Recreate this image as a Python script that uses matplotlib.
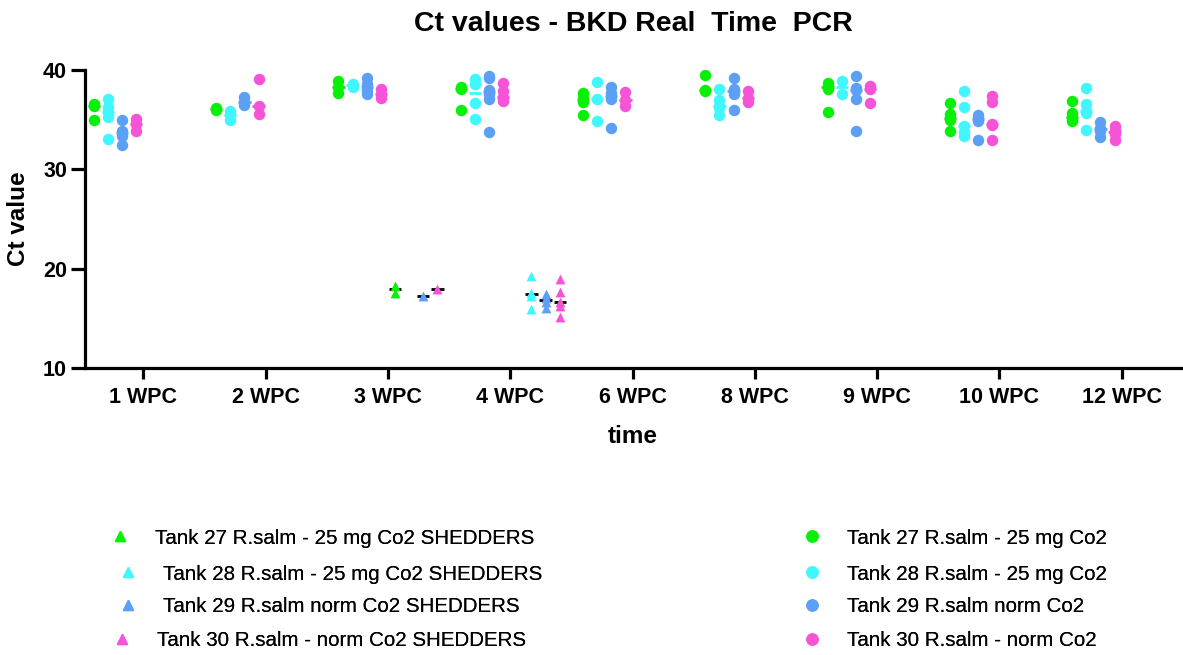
import numpy as np
import matplotlib.pyplot as plt
from matplotlib.lines import Line2D

plt.rcParams['font.family'] = ['Liberation Sans', 'DejaVu Sans']

weeks = ['1 WPC', '2 WPC', '3 WPC', '4 WPC', '6 WPC', '8 WPC', '9 WPC', '10 WPC', '12 WPC']

# Ct values per week for each tank (all fish sampled)
tank27 = [[36.6, 36.4, 35.0], [36.2, 36.0], [38.9, 38.3, 37.7], [38.3, 38.1, 36.0],
          [37.7, 37.2, 36.8, 35.5], [39.5, 38.0, 37.9], [38.7, 38.4, 38.1, 35.8],
          [36.7, 35.6, 35.2, 35.0, 33.9], [36.9, 35.7, 35.3, 35.05, 34.9]]
tank28 = [[37.1, 36.3, 35.8, 35.3, 33.1], [35.9, 35.5, 35.0], [38.6, 38.3],
          [39.1, 38.6, 36.7, 35.1], [38.8, 37.1, 34.9], [38.1, 37.0, 36.4, 36.2, 35.5],
          [38.9, 37.6], [37.9, 36.3, 34.4, 33.8, 33.4], [38.2, 36.6, 35.9, 35.7, 34.0]]
tank29 = [[35.0, 33.9, 33.4, 32.4], [37.3, 36.8, 36.5], [39.2, 38.6, 38.0, 37.6],
          [39.4, 39.2, 38.0, 37.6, 37.1, 33.8], [38.3, 37.7, 37.1, 34.2],
          [39.2, 38.1, 37.6, 36.0], [39.4, 38.2, 38.0, 37.1, 33.9],
          [35.5, 35.2, 34.9, 33.0], [34.8, 34.2, 33.9, 33.3]]
tank30 = [[35.1, 34.6, 33.9], [39.1, 36.4, 35.6], [38.1, 37.6, 37.2],
          [38.7, 37.9, 37.3, 37.2, 36.9], [37.8, 37.0, 36.4], [37.9, 37.2, 36.8],
          [38.4, 38.1, 36.7], [37.4, 36.8, 34.6, 34.5, 33.0], [34.4, 34.0, 33.6, 33.0]]

# shedders (low Ct) per week
shed27 = [[], [], [18.3, 17.6], [], [], [], [], [], []]
shed28 = [[], [], [], [19.3, 17.6, 17.2, 15.9], [], [], [], [], []]
shed29 = [[], [], [17.2], [17.5, 17.0, 16.6, 16.0], [], [], [], [], []]
shed30 = [[], [], [18.0], [19.0, 17.7, 16.6, 16.2, 15.1], [], [], [], [], []]

labels_all = ['Tank 27 R.salm - 25 mg Co2', 'Tank 28 R.salm - 25 mg Co2',
              'Tank 29 R.salm norm Co2', 'Tank 30 R.salm - norm Co2']
labels_shed = ['Tank 27 R.salm - 25 mg Co2 SHEDDERS', 'Tank 28 R.salm - 25 mg Co2 SHEDDERS',
               'Tank 29 R.salm norm Co2 SHEDDERS', 'Tank 30 R.salm - norm Co2 SHEDDERS']
colors = ['#08F008', '#40F6FF', '#5CA0F6', '#F553D8']

fig = plt.figure(figsize=(11.83, 6.55), dpi=100)
W, H = 1183, 655
ax = fig.add_axes([85 / W, (H - 368) / H, (1181 - 85) / W, 298 / H])

step = 0.1157
half = 0.05
series = [(d, c, 'o', c) for d, c in zip([tank27, tank28, tank29, tank30], colors)] + \
         [(d, c, '^', 'black') for d, c in zip([shed27, shed28, shed29, shed30], colors)]

for j, (data, col, mk, medcol) in enumerate(series):
    off = (j - 3.5) * step
    for i, vals in enumerate(data):
        if not vals:
            continue
        x = i + off
        med = np.median(vals)
        ax.plot([x - half, x + half], [med, med], color=medcol, lw=2, zorder=2,
                solid_capstyle='butt')
        size = 68 if mk == 'o' else 50
        ax.scatter([x] * len(vals), vals, s=size, color=col, marker=mk,
                   linewidths=0, zorder=3)

ax.set_xlim(-0.477, 8.485)
ax.set_ylim(10, 40)
ax.set_yticks([10, 20, 30, 40])
ax.set_xticks(range(len(weeks)))
ax.set_xticklabels(weeks)
for sp in ['top', 'right']:
    ax.spines[sp].set_visible(False)
for sp in ['left', 'bottom']:
    ax.spines[sp].set_linewidth(2.3)
ax.tick_params(axis='y', width=2.3, length=10, pad=3, labelsize=15.5)
ax.tick_params(axis='x', width=2.3, length=8, pad=6, labelsize=15.5)
for t in ax.get_xticklabels() + ax.get_yticklabels():
    t.set_fontweight('bold')

ax.set_ylabel('Ct value', fontsize=17.5, fontweight='bold', labelpad=9)
ax.set_xlabel('time', fontsize=17.5, fontweight='bold', labelpad=12)
ax.set_title('Ct values - BKD Real  Time  PCR', fontsize=20.5, fontweight='bold', pad=28)

# legend entries, one row each (pixel positions of marker box left edge)
row_y = [538, 574, 607, 641]
left_x = [110, 118, 118, 112]
leg_kw = dict(loc='center left', frameon=False, fontsize=14.8, handlelength=1.0,
              handletextpad=1.2, borderpad=0, borderaxespad=0)
for k, c in enumerate(colors):
    tri = Line2D([], [], ls='none', marker='^', color=c, markersize=7)
    dot = Line2D([], [], ls='none', marker='o', color=c, markersize=8)
    fig.add_artist(fig.legend([tri], [labels_shed[k]],
                              bbox_to_anchor=(left_x[k] / W, (H - row_y[k]) / H), **leg_kw))
    fig.add_artist(fig.legend([dot], [labels_all[k]],
                              bbox_to_anchor=(802 / W, (H - row_y[k]) / H), **leg_kw))

fig.savefig('out.png', dpi=100)
